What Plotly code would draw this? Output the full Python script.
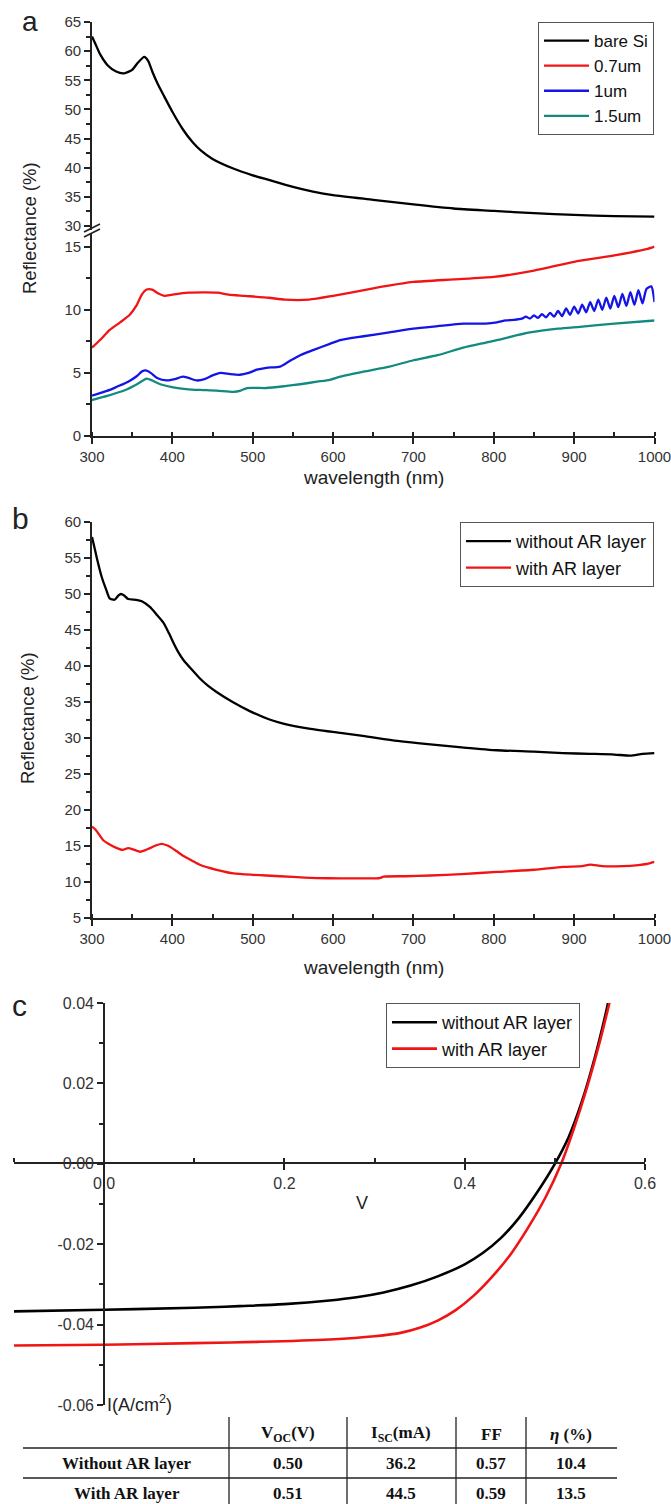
import plotly.graph_objects as go

W, H = 671, 1504
def px(x): return x / W
def py(y): return 1 - y / H

FONT = "Liberation Sans, Arial, sans-serif"
SERIF = "Liberation Serif, Times New Roman, serif"

# ---------------- Panel a data ----------------
a_bare_wl = [300, 305, 310, 320, 330, 340, 350, 357, 365, 370, 375, 382, 390, 400, 413, 425, 435, 450,
             475, 500, 520, 550, 575, 600, 650, 700, 750, 800, 850, 900, 950, 1000]
a_bare_R = [62.5, 61.0, 59.5, 57.5, 56.5, 56.2, 56.8, 58.0, 59.0, 58.3, 56.5, 54.3, 52.2, 49.6, 46.6, 44.4,
            43.0, 41.5, 39.9, 38.7, 37.9, 36.7, 35.9, 35.3, 34.5, 33.7, 33.0, 32.6, 32.2, 31.9, 31.7, 31.6]

a_07_wl = [300, 310, 322, 335, 347, 355, 362, 368, 375, 382, 390, 400, 420, 456, 470, 490, 520, 540, 570,
           600, 650, 700, 750, 800, 850, 900, 950, 990, 1000]
a_07_R = [7.0, 7.6, 8.4, 9.0, 9.6, 10.3, 11.2, 11.6, 11.6, 11.3, 11.1, 11.2, 11.35, 11.35, 11.2, 11.1, 10.95,
          10.8, 10.8, 11.1, 11.7, 12.2, 12.4, 12.6, 13.1, 13.8, 14.3, 14.8, 15.0]

a_1_wl = [300, 310, 322, 331, 345, 356, 362, 367, 373, 381, 393, 403, 413, 420, 430, 440, 450, 460, 472,
          484, 495, 505, 517, 534, 545, 559, 575, 596, 609, 638, 670, 700, 730, 762, 790, 804, 815, 825,
          835, 840, 845, 850, 855, 860, 865, 870, 875, 880, 885, 890, 895, 900, 905, 910, 915, 920, 925,
          930, 935, 940, 945, 950, 955, 960, 965, 970, 975, 980, 985, 990, 996, 1000]
a_1_R = [3.2, 3.4, 3.65, 3.9, 4.3, 4.75, 5.1, 5.2, 5.0, 4.6, 4.4, 4.5, 4.7, 4.6, 4.4, 4.5, 4.8, 5.0, 4.9,
         4.85, 5.0, 5.25, 5.4, 5.5, 5.9, 6.4, 6.8, 7.3, 7.6, 7.9, 8.2, 8.5, 8.7, 8.9, 8.9, 9.0, 9.15, 9.2,
         9.3, 9.45, 9.3, 9.55, 9.35, 9.65, 9.4, 9.75, 9.45, 9.9, 9.5, 10.1, 9.6, 10.25, 9.7, 10.4, 9.8, 10.6,
         9.9, 10.8, 10.0, 10.95, 10.1, 11.1, 10.2, 11.25, 10.3, 11.4, 10.4, 11.55, 10.5, 11.65, 11.85, 10.6]

a_15_wl = [300, 320, 340, 356, 368, 375, 385, 401, 420, 434, 455, 476, 485, 493, 517, 540, 559, 580, 596,
           609, 638, 670, 700, 730, 762, 790, 804, 845, 880, 907, 950, 1000]
a_15_R = [2.85, 3.2, 3.6, 4.1, 4.55, 4.4, 4.1, 3.85, 3.7, 3.65, 3.6, 3.5, 3.6, 3.8, 3.8, 3.95, 4.1, 4.3,
          4.45, 4.7, 5.1, 5.5, 6.0, 6.4, 7.0, 7.4, 7.6, 8.2, 8.5, 8.65, 8.9, 9.15]

# ---------------- Panel b data ----------------
b_without_wl = [300, 303, 306, 312, 318, 322, 328, 333, 336, 340, 345, 355, 362, 372, 380, 389, 396, 401,
                407, 414, 425, 434, 445, 455, 475, 497, 520, 538, 570, 609, 637, 680, 721, 760, 804, 850,
                886, 920, 950, 970, 985, 1000]
b_without_R = [57.9, 56.5, 55.0, 52.4, 50.5, 49.4, 49.2, 49.8, 50.0, 49.8, 49.3, 49.2, 49.0, 48.2, 47.2,
               46.0, 44.5, 43.3, 42.0, 40.8, 39.4, 38.3, 37.2, 36.4, 35.0, 33.7, 32.6, 32.0, 31.3, 30.7,
               30.3, 29.6, 29.1, 28.7, 28.3, 28.1, 27.9, 27.8, 27.7, 27.55, 27.8, 27.9]
b_with_wl = [300, 305, 314, 322, 331, 338, 345, 352, 360, 366, 372, 380, 387, 393, 397, 405, 414, 424,
             434, 445, 455, 476, 500, 517, 550, 580, 609, 640, 658, 663, 690, 721, 760, 804, 850, 886,
             910, 920, 935, 960, 980, 990, 1000]
b_with_R = [17.7, 17.2, 15.8, 15.2, 14.7, 14.45, 14.7, 14.5, 14.2, 14.4, 14.7, 15.1, 15.3, 15.1, 14.9,
            14.3, 13.6, 13.0, 12.4, 12.0, 11.7, 11.2, 11.0, 10.9, 10.7, 10.55, 10.5, 10.5, 10.55, 10.75,
            10.8, 10.9, 11.1, 11.4, 11.7, 12.1, 12.2, 12.4, 12.2, 12.2, 12.35, 12.5, 12.8]

# ---------------- Panel c data ----------------
c_without_V = [-0.1, 0.0, 0.1, 0.15, 0.2, 0.25, 0.28, 0.31, 0.34, 0.37, 0.40, 0.42, 0.44, 0.46, 0.48,
               0.50, 0.515, 0.53, 0.545, 0.555, 0.559]
c_without_I = [-0.0367, -0.0363, -0.0358, -0.0354, -0.0349, -0.0340, -0.0332, -0.0320, -0.0303, -0.0280,
               -0.0250, -0.0222, -0.0185, -0.0135, -0.0072, 0.0, 0.0065, 0.0155, 0.0270, 0.0360, 0.0400]
c_with_V = [-0.1, 0.0, 0.1, 0.17, 0.25, 0.30, 0.33, 0.35, 0.37, 0.39, 0.41, 0.43, 0.45, 0.47, 0.49, 0.507,
            0.52, 0.535, 0.55, 0.56, 0.564]
c_with_I = [-0.0452, -0.0450, -0.0446, -0.0443, -0.0437, -0.0429, -0.0420, -0.0408, -0.0390, -0.0364,
            -0.0328, -0.0282, -0.0228, -0.0160, -0.0082, 0.0, 0.0080, 0.0185, 0.0305, 0.0395, 0.0432]

c_ytick_vals = [-0.06, -0.04, -0.02, 0.0, 0.02, 0.04]
c_ytick_text = ["-0.06", "-0.04", "-0.02", "0.00", "0.02", "0.04"]
c_xtick_vals = [0.0, 0.2, 0.4, 0.6]
c_xtick_text = ["0.0", "0.2", "0.4", "0.6"]

# ---------------- Table data ----------------
table_header = ["", "V<sub>OC</sub>(V)", "I<sub>SC</sub>(mA)", "FF", "<i>η</i> (%)"]
table_rows = [["Without AR layer", "0.50", "36.2", "0.57", "10.4"],
              ["With AR layer", "0.51", "44.5", "0.59", "13.5"]]

BLACK = "#000000"
RED = "#f01414"
BLUE = "#1414e6"
TEAL = "#138a80"
LW = 2.3

fig = go.Figure()
# panel a
fig.add_trace(go.Scatter(x=a_bare_wl, y=a_bare_R, name="bare Si", mode="lines", xaxis="x2", yaxis="y2",
                         line=dict(color=BLACK, width=LW, shape="spline", smoothing=0.6), legend="legend"))
fig.add_trace(go.Scatter(x=a_07_wl, y=a_07_R, name="0.7um", mode="lines", xaxis="x", yaxis="y",
                         line=dict(color=RED, width=LW, shape="spline", smoothing=0.6), legend="legend"))
fig.add_trace(go.Scatter(x=a_1_wl, y=a_1_R, name="1um", mode="lines", xaxis="x", yaxis="y",
                         line=dict(color=BLUE, width=LW, shape="spline", smoothing=0.6), legend="legend"))
fig.add_trace(go.Scatter(x=a_15_wl, y=a_15_R, name="1.5um", mode="lines", xaxis="x", yaxis="y",
                         line=dict(color=TEAL, width=LW, shape="spline", smoothing=0.6), legend="legend"))
# panel b
fig.add_trace(go.Scatter(x=b_without_wl, y=b_without_R, name="without AR layer", mode="lines", xaxis="x3",
                         yaxis="y3", line=dict(color=BLACK, width=LW, shape="spline", smoothing=0.6),
                         legend="legend2"))
fig.add_trace(go.Scatter(x=b_with_wl, y=b_with_R, name="with AR layer", mode="lines", xaxis="x3",
                         yaxis="y3", line=dict(color=RED, width=LW, shape="spline", smoothing=0.6),
                         legend="legend2"))
# panel c
fig.add_trace(go.Scatter(x=c_without_V, y=c_without_I, name="without AR layer", mode="lines", xaxis="x4",
                         yaxis="y4", line=dict(color=BLACK, width=2.6, shape="spline", smoothing=1.0),
                         legend="legend3"))
fig.add_trace(go.Scatter(x=c_with_V, y=c_with_I, name="with AR layer", mode="lines", xaxis="x4",
                         yaxis="y4", line=dict(color=RED, width=2.6, shape="spline", smoothing=1.0),
                         legend="legend3"))

AX = "#222222"
tickfont = dict(family=FONT, size=15, color="#333333")
tickfont_c = dict(family=FONT, size=16, color="#333333")
base = dict(showline=True, linecolor=AX, linewidth=1.6, ticks="outside", ticklen=6, tickwidth=1.5,
            tickcolor=AX, showgrid=False, zeroline=False, tickfont=tickfont, automargin=False)
xminor = dict(ticks="inside", ticklen=4, tickwidth=1.5, tickcolor=AX, showgrid=False)
yminor = dict(ticks="outside", ticklen=4, tickwidth=1.5, tickcolor=AX, showgrid=False)

legend_common = dict(xanchor="right", yanchor="top", bgcolor="white", bordercolor="#555", borderwidth=1,
                     itemwidth=45)

ax_x = [px(92), px(654.5)]
fig.update_layout(
    width=W, height=H, autosize=False,
    margin=dict(l=0, r=0, t=0, b=0, pad=0),
    paper_bgcolor="white", plot_bgcolor="rgba(0,0,0,0)",
    font=dict(family=FONT, color="#222"),
    xaxis=dict(base, domain=ax_x, range=[300, 1000], anchor="y", dtick=100, tick0=0,
               ticklabeloverflow="allow", minor=dict(xminor, dtick=50)),
    yaxis=dict(base, domain=[py(436), py(234)], range=[0, 16], anchor="x", dtick=5, tick0=0,
               minor=dict(yminor, dtick=2.5)),
    xaxis2=dict(domain=ax_x, range=[300, 1000], anchor="y2", visible=False, showgrid=False,
                zeroline=False, automargin=False),
    yaxis2=dict(base, domain=[py(229.5), py(22)], range=[29.4, 65], anchor="x2", dtick=5, tick0=0,
                minor=dict(yminor, dtick=2.5)),
    xaxis3=dict(base, domain=ax_x, range=[300, 1000], anchor="y3", dtick=100, tick0=0,
                ticklabeloverflow="allow", minor=dict(xminor, dtick=50)),
    yaxis3=dict(base, domain=[py(918), py(522)], range=[5, 60], anchor="x3", dtick=5, tick0=0,
                minor=dict(yminor, dtick=2.5)),
    xaxis4=dict(base, domain=[px(14), px(645)], range=[-0.1, 0.6], anchor="free", position=py(1163),
                tickvals=c_xtick_vals, ticktext=c_xtick_text, tickfont=tickfont_c,
                ticklabeloverflow="allow", minor=dict(xminor, dtick=0.1, tick0=0)),
    yaxis4=dict(base, domain=[py(1405), py(1003)], range=[-0.06, 0.04], anchor="free", position=px(104),
                tickvals=c_ytick_vals, ticktext=c_ytick_text, tickfont=tickfont_c,
                minor=dict(yminor, dtick=0.01, tick0=0)),
    legend=dict(legend_common, x=px(654), y=py(22), font=dict(family=FONT, size=17, color="#111")),
    legend2=dict(legend_common, x=px(654), y=py(522), font=dict(family=FONT, size=18, color="#111")),
    legend3=dict(legend_common, x=px(580), y=py(1003), font=dict(family=FONT, size=18, color="#111")),
)

ann = []
def A(text, x, y, size=16, xanchor="center", yanchor="middle", textangle=0, family=FONT, color="#222"):
    ann.append(dict(text=text, x=px(x), y=py(y), xref="paper", yref="paper", showarrow=False,
                    xanchor=xanchor, yanchor=yanchor, textangle=textangle, borderpad=0,
                    font=dict(family=family, size=size, color=color)))

A("a", 30, 21, size=28)
A("b", 20, 518, size=30)
A("c", 19, 1005, size=30)
A("Reflectance (%)", 29, 228, size=18.5, textangle=-90)
A("Reflectance (%)", 27, 718, size=18.5, textangle=-90)
A("wavelength (nm)", 374, 478, size=19)
A("wavelength (nm)", 374, 968, size=19)
A("V", 362, 1203, size=18)
A("I(A/cm<sup>2</sup>)", 106, 1403, size=18, xanchor="left")

# table text
col_x = [127, 288, 401, 491, 571]
row_y = [1463, 1493]
for cx, h in zip(col_x, table_header):
    if h:
        A("<b>" + h + "</b>", cx, 1434, size=17, family=SERIF, color="#111")
for ry, row in zip(row_y, table_rows):
    for cx, v in zip(col_x, row):
        A("<b>" + v + "</b>", cx, ry, size=17, family=SERIF, color="#111")

shapes = []
def L(x0, y0, x1, y1, w=1.5, color="#222"):
    shapes.append(dict(type="line", xref="paper", yref="paper", x0=px(x0), y0=py(y0), x1=px(x1), y1=py(y1),
                       line=dict(color=color, width=w)))

# axis break marks on panel a
L(84, 232, 100, 224, w=1.6)
L(84, 237, 100, 229, w=1.6)
# table rules
L(23, 1448, 617, 1448, w=1.5)
L(23, 1478, 617, 1478, w=1.5)
for vx in [229, 347, 456, 526]:
    L(vx, 1417, vx, 1504, w=1.3)

fig.update_layout(annotations=ann, shapes=shapes)
# remove the browser's default page margin so the figure fills the 671x1504 window exactly
fig.write_html("out.html",
               config={"displayModeBar": False},
               post_script="document.body.style.margin='0';"
                           "document.documentElement.style.overflow='hidden';"
                           "document.body.style.overflow='hidden';")
